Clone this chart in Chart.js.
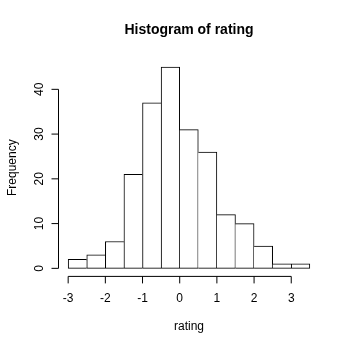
<!DOCTYPE html>
<html>
<head>
<meta charset="utf-8">
<script src="https://cdn.jsdelivr.net/npm/chart.js@4/dist/chart.umd.min.js"></script>
<style>
  html, body { margin: 0; padding: 0; background: #ffffff; }
  #wrap { width: 350px; height: 350px; }
</style>
</head>
<body>
<div id="wrap"><canvas id="hist" width="350" height="350"></canvas></div>
<script>
// Histogram of rating: bin edges every 0.5 from -3 to 3.5
const binStarts = [-3, -2.5, -2, -1.5, -1, -0.5, 0, 0.5, 1, 1.5, 2, 2.5, 3];
const binWidth = 0.5;
const counts = [2, 3, 6, 21, 37, 45, 31, 26, 12, 10, 5, 1, 1];
const xTicks = [-3, -2, -1, 0, 1, 2, 3];
const yTicks = [0, 10, 20, 30, 40];
const titleText = 'Histogram of rating';
const xLabel = 'rating';
const yLabel = 'Frequency';

const FONT = '"Liberation Sans", Arial, Helvetica, sans-serif';

const points = binStarts.map((s, i) => ({ x: s + binWidth / 2, y: counts[i] }));

// Shared edges between neighbouring bars are outlined only once, by the taller bar.
function edgeWidths(ctx) {
  const i = ctx.dataIndex;
  const h = counts[i];
  const prev = i > 0 ? counts[i - 1] : -Infinity;
  const next = i < counts.length - 1 ? counts[i + 1] : -Infinity;
  return {
    top: 1,
    bottom: 1,
    left: h >= prev ? 1 : 0,
    right: h > next ? 1 : 0
  };
}

// R-style base graphics axes, title and axis labels
const baseAxes = {
  id: 'baseAxes',
  afterDraw(chart) {
    const { ctx, scales: { x, y }, chartArea } = chart;
    ctx.save();
    ctx.strokeStyle = '#000000';
    ctx.fillStyle = '#000000';
    ctx.lineWidth = 1;

    // x axis
    const xAxisY = chartArea.bottom;
    ctx.beginPath();
    ctx.moveTo(x.getPixelForValue(xTicks[0]), xAxisY);
    ctx.lineTo(x.getPixelForValue(xTicks[xTicks.length - 1]), xAxisY);
    xTicks.forEach(t => {
      const px = x.getPixelForValue(t);
      ctx.moveTo(px, xAxisY);
      ctx.lineTo(px, xAxisY + 7);
    });
    ctx.stroke();
    ctx.font = '12px ' + FONT;
    ctx.textAlign = 'center';
    ctx.textBaseline = 'alphabetic';
    xTicks.forEach(t => {
      ctx.fillText(String(t), x.getPixelForValue(t), 302);
    });

    // y axis
    const yAxisX = chartArea.left;
    ctx.beginPath();
    ctx.moveTo(yAxisX, y.getPixelForValue(yTicks[0]));
    ctx.lineTo(yAxisX, y.getPixelForValue(yTicks[yTicks.length - 1]));
    yTicks.forEach(t => {
      const py = y.getPixelForValue(t);
      ctx.moveTo(yAxisX, py);
      ctx.lineTo(yAxisX - 7, py);
    });
    ctx.stroke();
    yTicks.forEach(t => {
      ctx.save();
      ctx.translate(43, y.getPixelForValue(t));
      ctx.rotate(-Math.PI / 2);
      ctx.textAlign = 'center';
      ctx.fillText(String(t), 0, 0);
      ctx.restore();
    });

    // axis titles
    const midX = (chartArea.left + chartArea.right) / 2;
    const midY = (chartArea.top + chartArea.bottom) / 2;
    ctx.textAlign = 'center';
    ctx.fillText(xLabel, midX, 330);
    ctx.save();
    ctx.translate(16, midY);
    ctx.rotate(-Math.PI / 2);
    ctx.fillText(yLabel, 0, 0);
    ctx.restore();

    // main title
    ctx.font = 'bold 14px ' + FONT;
    ctx.fillText(titleText, midX, 34);
    ctx.restore();
  }
};

new Chart(document.getElementById('hist'), {
  type: 'bar',
  data: {
    datasets: [{
      data: points,
      backgroundColor: '#ffffff',
      borderColor: '#000000',
      borderWidth: edgeWidths,
      borderSkipped: false,
      barPercentage: 1,
      categoryPercentage: 1
    }]
  },
  options: {
    responsive: false,
    animation: false,
    devicePixelRatio: 1,
    layout: { padding: { left: 58.5, right: 30.5, top: 58.9, bottom: 73.6 } },
    scales: {
      x: { type: 'linear', min: -3.26, max: 3.76, offset: false, display: false },
      y: { type: 'linear', min: -1.8, max: 46.8, display: false }
    },
    plugins: {
      legend: { display: false },
      tooltip: { enabled: false },
      title: { display: false }
    }
  },
  plugins: [baseAxes]
});
</script>
</body>
</html>
